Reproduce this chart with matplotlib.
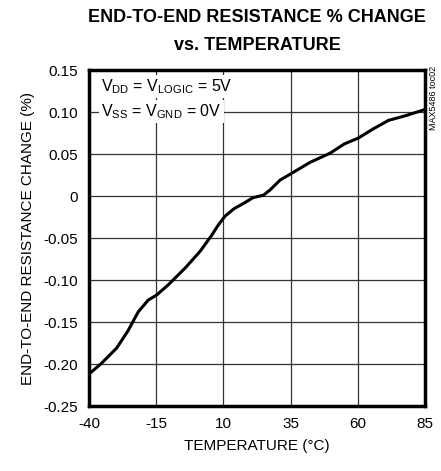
import numpy as np
import matplotlib.pyplot as plt

plt.rcParams['font.family'] = ['Liberation Sans Narrow', 'Liberation Sans', 'DejaVu Sans']
plt.rcParams['mathtext.fontset'] = 'custom'
plt.rcParams['mathtext.rm'] = 'Liberation Sans'
plt.rcParams['mathtext.it'] = 'Liberation Sans'
plt.rcParams['axes.unicode_minus'] = False

# data
temp = [-40, -35.3, -29.7, -25.4, -21.7, -18, -14.9, -10.6, -4.3, 1.3, 5.6, 8, 10.6,
        14, 17.4, 21, 24.9, 27.3, 31.1, 35.4, 42.2, 49.7, 55, 60.2, 65.8, 71.4, 78.2, 85]
change = [-0.212, -0.199, -0.181, -0.160, -0.138, -0.124, -0.118, -0.106, -0.086,
          -0.066, -0.047, -0.035, -0.024, -0.015, -0.009, -0.002, 0.001, 0.007,
          0.019, 0.027, 0.040, 0.051, 0.062, 0.069, 0.080, 0.090, 0.096, 0.103]
xticks = [-40, -15, 10, 35, 60, 85]
yticks = [0.15, 0.10, 0.05, 0, -0.05, -0.10, -0.15, -0.20, -0.25]
ylabels = ['0.15', '0.10', '0.05', '0', '-0.05', '-0.10', '-0.15', '-0.20', '-0.25']

fig = plt.figure(figsize=(4.41, 4.71), dpi=100)
ax = fig.add_axes([89/441, 1-406/471, 336/441, 336/471])

ax.plot(temp, change, color='black', lw=2.2, zorder=3,
        solid_joinstyle='round', solid_capstyle='round')
ax.set_xlim(-40, 85)
ax.set_ylim(-0.25, 0.15)
ax.set_xticks(xticks)
ax.set_yticks(yticks)
ax.set_yticklabels(ylabels)
ax.grid(True, color='#333333', lw=0.9)
ax.tick_params(length=0, labelsize=11, pad=8)
for s in ax.spines.values():
    s.set_linewidth(2.5)

ax.set_xlabel('TEMPERATURE (°C)', fontsize=11, labelpad=6)
ax.set_ylabel('END-TO-END RESISTANCE CHANGE (%)', fontsize=11, labelpad=6)

fig.text(257/441, 1-18/471, 'END-TO-END RESISTANCE % CHANGE', ha='center', va='center',
         fontsize=13, fontweight='bold')
fig.text(257/441, 1-45/471, 'vs. TEMPERATURE', ha='center', va='center',
         fontsize=13, fontweight='bold')

box = dict(facecolor='white', edgecolor='none', pad=1.5)
ax.text(-35.5, 0.13, r'$\mathrm{V_{DD}}$ = $\mathrm{V_{LOGIC}}$ = 5V', fontsize=11.5,
        va='center', ha='left', bbox=box, zorder=4)
ax.text(-35.5, 0.101, r'$\mathrm{V_{SS}}$ = $\mathrm{V_{GND}}$ = 0V', fontsize=11.5,
        va='center', ha='left', bbox=box, zorder=4)

fig.text(433/441, 1-98/471, 'MAX5486 toc02', rotation=90, ha='center', va='center', fontsize=6.5)

fig.savefig('out.png', dpi=100)
